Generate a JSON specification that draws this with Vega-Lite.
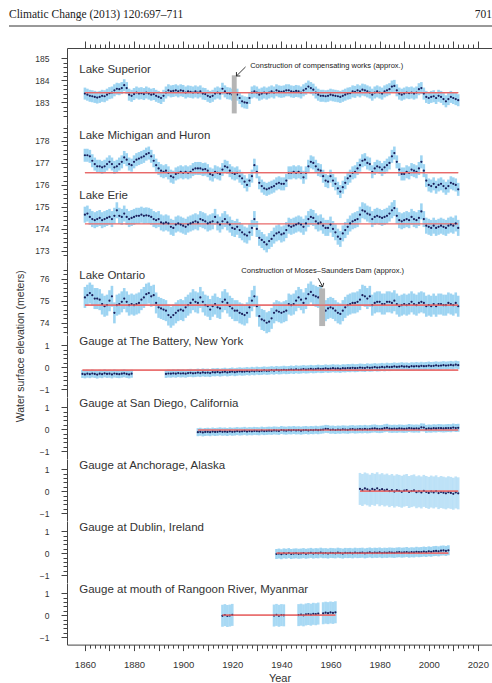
{
"$schema":"https://vega.github.io/schema/vega-lite/v6.json",
"padding":{"left":8,"top":4,"right":0,"bottom":0},
"config":{"view":{"stroke":null},"axis":{"grid":false,"domainColor":"#444","tickColor":"#444","labelColor":"#333","labelFont":"Liberation Sans","labelFontSize":8.5,"titleFont":"Liberation Sans","titleFontWeight":"normal","titleColor":"#333","labelOverlap":false,"labelFlush":false},"text":{"font":"Liberation Sans"}},
"datasets":{
"sup":[{"t":1860,"a":183.4},{"t":1861,"a":183.35},{"t":1862,"a":183.3},{"t":1863,"a":183.28},{"t":1864,"a":183.25},{"t":1865,"a":183.22},{"t":1866,"a":183.25},{"t":1867,"a":183.3},{"t":1868,"a":183.28},{"t":1869,"a":183.35},{"t":1870,"a":183.42},{"t":1871,"a":183.45},{"t":1872,"a":183.55},{"t":1873,"a":183.62},{"t":1874,"a":183.6},{"t":1875,"a":183.65},{"t":1876,"a":183.78},{"t":1877,"a":183.65},{"t":1878,"a":183.35},{"t":1879,"a":183.3},{"t":1880,"a":183.38},{"t":1881,"a":183.45},{"t":1882,"a":183.4},{"t":1883,"a":183.42},{"t":1884,"a":183.38},{"t":1885,"a":183.45},{"t":1886,"a":183.4},{"t":1887,"a":183.35},{"t":1888,"a":183.38},{"t":1889,"a":183.3},{"t":1890,"a":183.25},{"t":1891,"a":183.2},{"t":1892,"a":183.3},{"t":1893,"a":183.45},{"t":1894,"a":183.55},{"t":1895,"a":183.5},{"t":1896,"a":183.52},{"t":1897,"a":183.55},{"t":1898,"a":183.5},{"t":1899,"a":183.55},{"t":1900,"a":183.52},{"t":1901,"a":183.45},{"t":1902,"a":183.5},{"t":1903,"a":183.48},{"t":1904,"a":183.45},{"t":1905,"a":183.5},{"t":1906,"a":183.45},{"t":1907,"a":183.5},{"t":1908,"a":183.4},{"t":1909,"a":183.38},{"t":1910,"a":183.3},{"t":1911,"a":183.25},{"t":1912,"a":183.3},{"t":1913,"a":183.4},{"t":1914,"a":183.45},{"t":1915,"a":183.4},{"t":1916,"a":183.62},{"t":1917,"a":183.5},{"t":1918,"a":183.42},{"t":1919,"a":183.4},{"t":1920,"a":183.35},{"t":1921,"a":183.3},{"t":1922,"a":183.35},{"t":1923,"a":183.2},{"t":1924,"a":183.05},{"t":1925,"a":183.0},{"t":1926,"a":182.98},{"t":1927,"a":183.2},{"t":1928,"a":183.45},{"t":1929,"a":183.5},{"t":1930,"a":183.45},{"t":1931,"a":183.35},{"t":1932,"a":183.4},{"t":1933,"a":183.45},{"t":1934,"a":183.4},{"t":1935,"a":183.45},{"t":1936,"a":183.5},{"t":1937,"a":183.45},{"t":1938,"a":183.55},{"t":1939,"a":183.5},{"t":1940,"a":183.48},{"t":1941,"a":183.5},{"t":1942,"a":183.55},{"t":1943,"a":183.55},{"t":1944,"a":183.5},{"t":1945,"a":183.48},{"t":1946,"a":183.52},{"t":1947,"a":183.5},{"t":1948,"a":183.45},{"t":1949,"a":183.55},{"t":1950,"a":183.62},{"t":1951,"a":183.72},{"t":1952,"a":183.65},{"t":1953,"a":183.58},{"t":1954,"a":183.45},{"t":1955,"a":183.35},{"t":1956,"a":183.3},{"t":1957,"a":183.3},{"t":1958,"a":183.28},{"t":1959,"a":183.3},{"t":1960,"a":183.35},{"t":1961,"a":183.32},{"t":1962,"a":183.3},{"t":1963,"a":183.28},{"t":1964,"a":183.25},{"t":1965,"a":183.3},{"t":1966,"a":183.35},{"t":1967,"a":183.4},{"t":1968,"a":183.42},{"t":1969,"a":183.5},{"t":1970,"a":183.48},{"t":1971,"a":183.55},{"t":1972,"a":183.5},{"t":1973,"a":183.58},{"t":1974,"a":183.55},{"t":1975,"a":183.5},{"t":1976,"a":183.45},{"t":1977,"a":183.35},{"t":1978,"a":183.45},{"t":1979,"a":183.5},{"t":1980,"a":183.45},{"t":1981,"a":183.4},{"t":1982,"a":183.5},{"t":1983,"a":183.55},{"t":1984,"a":183.6},{"t":1985,"a":183.72},{"t":1986,"a":183.75},{"t":1987,"a":183.55},{"t":1988,"a":183.4},{"t":1989,"a":183.35},{"t":1990,"a":183.4},{"t":1991,"a":183.45},{"t":1992,"a":183.42},{"t":1993,"a":183.45},{"t":1994,"a":183.4},{"t":1995,"a":183.45},{"t":1996,"a":183.6},{"t":1997,"a":183.65},{"t":1998,"a":183.4},{"t":1999,"a":183.25},{"t":2000,"a":183.2},{"t":2001,"a":183.25},{"t":2002,"a":183.28},{"t":2003,"a":183.2},{"t":2004,"a":183.3},{"t":2005,"a":183.25},{"t":2006,"a":183.15},{"t":2007,"a":183.05},{"t":2008,"a":183.15},{"t":2009,"a":183.25},{"t":2010,"a":183.2},{"t":2011,"a":183.15},{"t":2012,"a":183.1}],
"mh":[{"t":1860,"a":177.35},{"t":1861,"a":177.35},{"t":1862,"a":177.3},{"t":1863,"a":177.1},{"t":1864,"a":176.95},{"t":1865,"a":176.85},{"t":1866,"a":176.85},{"t":1867,"a":176.8},{"t":1868,"a":176.85},{"t":1869,"a":176.95},{"t":1870,"a":177.05},{"t":1871,"a":176.95},{"t":1872,"a":176.8},{"t":1873,"a":176.85},{"t":1874,"a":176.95},{"t":1875,"a":177.05},{"t":1876,"a":177.25},{"t":1877,"a":177.15},{"t":1878,"a":176.95},{"t":1879,"a":176.9},{"t":1880,"a":177.05},{"t":1881,"a":177.15},{"t":1882,"a":177.2},{"t":1883,"a":177.25},{"t":1884,"a":177.3},{"t":1885,"a":177.4},{"t":1886,"a":177.45},{"t":1887,"a":177.3},{"t":1888,"a":177.1},{"t":1889,"a":176.9},{"t":1890,"a":176.75},{"t":1891,"a":176.65},{"t":1892,"a":176.6},{"t":1893,"a":176.65},{"t":1894,"a":176.55},{"t":1895,"a":176.4},{"t":1896,"a":176.35},{"t":1897,"a":176.5},{"t":1898,"a":176.55},{"t":1899,"a":176.6},{"t":1900,"a":176.55},{"t":1901,"a":176.6},{"t":1902,"a":176.55},{"t":1903,"a":176.6},{"t":1904,"a":176.7},{"t":1905,"a":176.75},{"t":1906,"a":176.75},{"t":1907,"a":176.75},{"t":1908,"a":176.7},{"t":1909,"a":176.72},{"t":1910,"a":176.65},{"t":1911,"a":176.5},{"t":1912,"a":176.45},{"t":1913,"a":176.6},{"t":1914,"a":176.55},{"t":1915,"a":176.5},{"t":1916,"a":176.7},{"t":1917,"a":176.85},{"t":1918,"a":176.8},{"t":1919,"a":176.65},{"t":1920,"a":176.55},{"t":1921,"a":176.5},{"t":1922,"a":176.55},{"t":1923,"a":176.4},{"t":1924,"a":176.3},{"t":1925,"a":176.15},{"t":1926,"a":176.0},{"t":1927,"a":176.2},{"t":1928,"a":176.4},{"t":1929,"a":176.9},{"t":1930,"a":176.6},{"t":1931,"a":176.1},{"t":1932,"a":175.95},{"t":1933,"a":175.85},{"t":1934,"a":175.8},{"t":1935,"a":175.85},{"t":1936,"a":175.9},{"t":1937,"a":175.95},{"t":1938,"a":176.05},{"t":1939,"a":176.1},{"t":1940,"a":176.05},{"t":1941,"a":176.05},{"t":1942,"a":176.2},{"t":1943,"a":176.55},{"t":1944,"a":176.55},{"t":1945,"a":176.6},{"t":1946,"a":176.55},{"t":1947,"a":176.6},{"t":1948,"a":176.55},{"t":1949,"a":176.35},{"t":1950,"a":176.55},{"t":1951,"a":176.85},{"t":1952,"a":177.05},{"t":1953,"a":177.0},{"t":1954,"a":176.85},{"t":1955,"a":176.7},{"t":1956,"a":176.65},{"t":1957,"a":176.4},{"t":1958,"a":176.2},{"t":1959,"a":176.15},{"t":1960,"a":176.4},{"t":1961,"a":176.2},{"t":1962,"a":176.05},{"t":1963,"a":175.85},{"t":1964,"a":175.7},{"t":1965,"a":175.9},{"t":1966,"a":176.1},{"t":1967,"a":176.3},{"t":1968,"a":176.4},{"t":1969,"a":176.55},{"t":1970,"a":176.6},{"t":1971,"a":176.75},{"t":1972,"a":176.9},{"t":1973,"a":177.1},{"t":1974,"a":177.15},{"t":1975,"a":177.0},{"t":1976,"a":176.95},{"t":1977,"a":176.6},{"t":1978,"a":176.75},{"t":1979,"a":176.85},{"t":1980,"a":176.8},{"t":1981,"a":176.7},{"t":1982,"a":176.8},{"t":1983,"a":176.9},{"t":1984,"a":177.0},{"t":1985,"a":177.3},{"t":1986,"a":177.45},{"t":1987,"a":177.05},{"t":1988,"a":176.7},{"t":1989,"a":176.5},{"t":1990,"a":176.5},{"t":1991,"a":176.6},{"t":1992,"a":176.55},{"t":1993,"a":176.7},{"t":1994,"a":176.65},{"t":1995,"a":176.6},{"t":1996,"a":176.75},{"t":1997,"a":177.05},{"t":1998,"a":176.65},{"t":1999,"a":176.2},{"t":2000,"a":176.0},{"t":2001,"a":175.95},{"t":2002,"a":176.05},{"t":2003,"a":175.9},{"t":2004,"a":176.0},{"t":2005,"a":176.05},{"t":2006,"a":175.95},{"t":2007,"a":175.85},{"t":2008,"a":175.95},{"t":2009,"a":176.1},{"t":2010,"a":176.05},{"t":2011,"a":176.0},{"t":2012,"a":175.8}],
"er":[{"t":1860,"a":174.65},{"t":1861,"a":174.7},{"t":1862,"a":174.55},{"t":1863,"a":174.45},{"t":1864,"a":174.4},{"t":1865,"a":174.45},{"t":1866,"a":174.5},{"t":1867,"a":174.4},{"t":1868,"a":174.45},{"t":1869,"a":174.5},{"t":1870,"a":174.55},{"t":1871,"a":174.45},{"t":1872,"a":174.6},{"t":1873,"a":174.85},{"t":1874,"a":174.6},{"t":1875,"a":174.55},{"t":1876,"a":174.7},{"t":1877,"a":174.55},{"t":1878,"a":174.45},{"t":1879,"a":174.5},{"t":1880,"a":174.55},{"t":1881,"a":174.6},{"t":1882,"a":174.6},{"t":1883,"a":174.65},{"t":1884,"a":174.6},{"t":1885,"a":174.62},{"t":1886,"a":174.6},{"t":1887,"a":174.55},{"t":1888,"a":174.45},{"t":1889,"a":174.4},{"t":1890,"a":174.45},{"t":1891,"a":174.3},{"t":1892,"a":174.25},{"t":1893,"a":174.3},{"t":1894,"a":174.25},{"t":1895,"a":174.1},{"t":1896,"a":174.05},{"t":1897,"a":174.2},{"t":1898,"a":174.25},{"t":1899,"a":174.2},{"t":1900,"a":174.15},{"t":1901,"a":174.1},{"t":1902,"a":174.2},{"t":1903,"a":174.25},{"t":1904,"a":174.3},{"t":1905,"a":174.35},{"t":1906,"a":174.3},{"t":1907,"a":174.45},{"t":1908,"a":174.4},{"t":1909,"a":174.35},{"t":1910,"a":174.25},{"t":1911,"a":174.3},{"t":1912,"a":174.35},{"t":1913,"a":174.55},{"t":1914,"a":174.3},{"t":1915,"a":174.2},{"t":1916,"a":174.35},{"t":1917,"a":174.45},{"t":1918,"a":174.3},{"t":1919,"a":174.2},{"t":1920,"a":174.05},{"t":1921,"a":174.0},{"t":1922,"a":174.1},{"t":1923,"a":173.95},{"t":1924,"a":173.85},{"t":1925,"a":173.75},{"t":1926,"a":173.7},{"t":1927,"a":173.85},{"t":1928,"a":174.05},{"t":1929,"a":174.45},{"t":1930,"a":174.0},{"t":1931,"a":173.6},{"t":1932,"a":173.5},{"t":1933,"a":173.4},{"t":1934,"a":173.3},{"t":1935,"a":173.45},{"t":1936,"a":173.55},{"t":1937,"a":173.7},{"t":1938,"a":173.8},{"t":1939,"a":173.85},{"t":1940,"a":173.75},{"t":1941,"a":173.8},{"t":1942,"a":173.95},{"t":1943,"a":174.15},{"t":1944,"a":174.1},{"t":1945,"a":174.15},{"t":1946,"a":174.2},{"t":1947,"a":174.25},{"t":1948,"a":174.2},{"t":1949,"a":174.1},{"t":1950,"a":174.25},{"t":1951,"a":174.45},{"t":1952,"a":174.55},{"t":1953,"a":174.5},{"t":1954,"a":174.35},{"t":1955,"a":174.25},{"t":1956,"a":174.3},{"t":1957,"a":174.15},{"t":1958,"a":174.05},{"t":1959,"a":174.05},{"t":1960,"a":174.2},{"t":1961,"a":174.0},{"t":1962,"a":173.85},{"t":1963,"a":173.65},{"t":1964,"a":173.55},{"t":1965,"a":173.8},{"t":1966,"a":173.95},{"t":1967,"a":174.1},{"t":1968,"a":174.25},{"t":1969,"a":174.35},{"t":1970,"a":174.4},{"t":1971,"a":174.45},{"t":1972,"a":174.65},{"t":1973,"a":174.85},{"t":1974,"a":174.8},{"t":1975,"a":174.7},{"t":1976,"a":174.65},{"t":1977,"a":174.45},{"t":1978,"a":174.55},{"t":1979,"a":174.6},{"t":1980,"a":174.55},{"t":1981,"a":174.5},{"t":1982,"a":174.55},{"t":1983,"a":174.6},{"t":1984,"a":174.7},{"t":1985,"a":174.85},{"t":1986,"a":174.95},{"t":1987,"a":174.6},{"t":1988,"a":174.4},{"t":1989,"a":174.35},{"t":1990,"a":174.4},{"t":1991,"a":174.45},{"t":1992,"a":174.4},{"t":1993,"a":174.55},{"t":1994,"a":174.45},{"t":1995,"a":174.4},{"t":1996,"a":174.5},{"t":1997,"a":174.8},{"t":1998,"a":174.45},{"t":1999,"a":174.15},{"t":2000,"a":174.1},{"t":2001,"a":174.05},{"t":2002,"a":174.15},{"t":2003,"a":174.05},{"t":2004,"a":174.1},{"t":2005,"a":174.15},{"t":2006,"a":174.1},{"t":2007,"a":174.05},{"t":2008,"a":174.15},{"t":2009,"a":174.2},{"t":2010,"a":174.15},{"t":2011,"a":174.25},{"t":2012,"a":174.05}],
"on":[{"t":1860,"a":75.15},{"t":1861,"a":75.25},{"t":1862,"a":75.35},{"t":1863,"a":75.25},{"t":1864,"a":75.1},{"t":1865,"a":75.1},{"t":1866,"a":75.05},{"t":1867,"a":74.85},{"t":1868,"a":74.75},{"t":1869,"a":74.8},{"t":1870,"a":75.0},{"t":1871,"a":75.2},{"t":1872,"a":74.45},{"t":1873,"a":74.8},{"t":1874,"a":74.85},{"t":1875,"a":74.95},{"t":1876,"a":75.1},{"t":1877,"a":74.95},{"t":1878,"a":74.8},{"t":1879,"a":74.85},{"t":1880,"a":74.8},{"t":1881,"a":74.85},{"t":1882,"a":74.9},{"t":1883,"a":75.05},{"t":1884,"a":75.15},{"t":1885,"a":75.3},{"t":1886,"a":75.35},{"t":1887,"a":75.2},{"t":1888,"a":75.25},{"t":1889,"a":74.9},{"t":1890,"a":74.7},{"t":1891,"a":74.65},{"t":1892,"a":74.6},{"t":1893,"a":74.55},{"t":1894,"a":74.35},{"t":1895,"a":74.25},{"t":1896,"a":74.35},{"t":1897,"a":74.45},{"t":1898,"a":74.55},{"t":1899,"a":74.6},{"t":1900,"a":74.55},{"t":1901,"a":74.7},{"t":1902,"a":74.8},{"t":1903,"a":74.9},{"t":1904,"a":75.05},{"t":1905,"a":74.95},{"t":1906,"a":74.9},{"t":1907,"a":75.15},{"t":1908,"a":74.95},{"t":1909,"a":74.8},{"t":1910,"a":74.75},{"t":1911,"a":74.6},{"t":1912,"a":74.75},{"t":1913,"a":74.85},{"t":1914,"a":74.7},{"t":1915,"a":74.65},{"t":1916,"a":74.95},{"t":1917,"a":75.05},{"t":1918,"a":74.9},{"t":1919,"a":74.75},{"t":1920,"a":74.65},{"t":1921,"a":74.55},{"t":1922,"a":74.55},{"t":1923,"a":74.45},{"t":1924,"a":74.4},{"t":1925,"a":74.35},{"t":1926,"a":74.45},{"t":1927,"a":74.7},{"t":1928,"a":75.0},{"t":1929,"a":75.2},{"t":1930,"a":74.75},{"t":1931,"a":74.3},{"t":1932,"a":74.15},{"t":1933,"a":74.1},{"t":1934,"a":74.0},{"t":1935,"a":74.05},{"t":1936,"a":74.2},{"t":1937,"a":74.45},{"t":1938,"a":74.55},{"t":1939,"a":74.5},{"t":1940,"a":74.45},{"t":1941,"a":74.5},{"t":1942,"a":74.55},{"t":1943,"a":74.85},{"t":1944,"a":74.8},{"t":1945,"a":74.85},{"t":1946,"a":75.0},{"t":1947,"a":75.15},{"t":1948,"a":75.05},{"t":1949,"a":74.9},{"t":1950,"a":75.1},{"t":1951,"a":75.3},{"t":1952,"a":75.4},{"t":1953,"a":75.25},{"t":1954,"a":75.2},{"t":1955,"a":75.15},{"t":1956,"a":75.2},{"t":1957,"a":74.9},{"t":1958,"a":74.55},{"t":1959,"a":74.65},{"t":1960,"a":74.7},{"t":1961,"a":74.65},{"t":1962,"a":74.55},{"t":1963,"a":74.45},{"t":1964,"a":74.4},{"t":1965,"a":74.55},{"t":1966,"a":74.7},{"t":1967,"a":74.8},{"t":1968,"a":74.85},{"t":1969,"a":74.9},{"t":1970,"a":74.9},{"t":1971,"a":74.95},{"t":1972,"a":75.05},{"t":1973,"a":75.25},{"t":1974,"a":75.2},{"t":1975,"a":75.1},{"t":1976,"a":75.2},{"t":1977,"a":74.8},{"t":1978,"a":74.9},{"t":1979,"a":74.95},{"t":1980,"a":74.95},{"t":1981,"a":74.85},{"t":1982,"a":74.85},{"t":1983,"a":74.95},{"t":1984,"a":74.95},{"t":1985,"a":74.9},{"t":1986,"a":75.0},{"t":1987,"a":74.85},{"t":1988,"a":74.75},{"t":1989,"a":74.8},{"t":1990,"a":74.85},{"t":1991,"a":74.8},{"t":1992,"a":74.85},{"t":1993,"a":74.95},{"t":1994,"a":74.85},{"t":1995,"a":74.8},{"t":1996,"a":74.9},{"t":1997,"a":74.95},{"t":1998,"a":74.9},{"t":1999,"a":74.75},{"t":2000,"a":74.8},{"t":2001,"a":74.75},{"t":2002,"a":74.85},{"t":2003,"a":74.75},{"t":2004,"a":74.85},{"t":2005,"a":74.85},{"t":2006,"a":74.8},{"t":2007,"a":74.8},{"t":2008,"a":74.9},{"t":2009,"a":74.85},{"t":2010,"a":74.8},{"t":2011,"a":74.9},{"t":2012,"a":74.75}],
"ba":[{"t":1859,"a":-0.31},{"t":1860,"a":-0.33},{"t":1861,"a":-0.3},{"t":1862,"a":-0.32},{"t":1863,"a":-0.29},{"t":1864,"a":-0.31},{"t":1865,"a":-0.34},{"t":1866,"a":-0.3},{"t":1867,"a":-0.32},{"t":1868,"a":-0.28},{"t":1869,"a":-0.31},{"t":1870,"a":-0.3},{"t":1871,"a":-0.33},{"t":1872,"a":-0.29},{"t":1873,"a":-0.31},{"t":1874,"a":-0.32},{"t":1875,"a":-0.3},{"t":1876,"a":-0.28},{"t":1877,"a":-0.31},{"t":1878,"a":-0.33},{"t":1879,"a":-0.3},{"t":1893,"a":-0.31},{"t":1894,"a":-0.29},{"t":1895,"a":-0.3},{"t":1896,"a":-0.28},{"t":1897,"a":-0.3},{"t":1898,"a":-0.27},{"t":1899,"a":-0.29},{"t":1900,"a":-0.28},{"t":1901,"a":-0.3},{"t":1902,"a":-0.27},{"t":1903,"a":-0.26},{"t":1904,"a":-0.28},{"t":1905,"a":-0.27},{"t":1906,"a":-0.25},{"t":1907,"a":-0.27},{"t":1908,"a":-0.24},{"t":1909,"a":-0.26},{"t":1910,"a":-0.25},{"t":1911,"a":-0.27},{"t":1912,"a":-0.23},{"t":1913,"a":-0.24},{"t":1914,"a":-0.22},{"t":1915,"a":-0.25},{"t":1916,"a":-0.23},{"t":1917,"a":-0.21},{"t":1918,"a":-0.24},{"t":1919,"a":-0.22},{"t":1920,"a":-0.2},{"t":1921,"a":-0.23},{"t":1922,"a":-0.21},{"t":1923,"a":-0.19},{"t":1924,"a":-0.21},{"t":1925,"a":-0.2},{"t":1926,"a":-0.18},{"t":1927,"a":-0.2},{"t":1928,"a":-0.17},{"t":1929,"a":-0.19},{"t":1930,"a":-0.16},{"t":1931,"a":-0.18},{"t":1932,"a":-0.17},{"t":1933,"a":-0.15},{"t":1934,"a":-0.17},{"t":1935,"a":-0.16},{"t":1936,"a":-0.14},{"t":1937,"a":-0.16},{"t":1938,"a":-0.13},{"t":1939,"a":-0.15},{"t":1940,"a":-0.14},{"t":1941,"a":-0.12},{"t":1942,"a":-0.14},{"t":1943,"a":-0.13},{"t":1944,"a":-0.11},{"t":1945,"a":-0.13},{"t":1946,"a":-0.1},{"t":1947,"a":-0.12},{"t":1948,"a":-0.11},{"t":1949,"a":-0.09},{"t":1950,"a":-0.11},{"t":1951,"a":-0.1},{"t":1952,"a":-0.08},{"t":1953,"a":-0.1},{"t":1954,"a":-0.09},{"t":1955,"a":-0.07},{"t":1956,"a":-0.09},{"t":1957,"a":-0.08},{"t":1958,"a":-0.06},{"t":1959,"a":-0.08},{"t":1960,"a":-0.07},{"t":1961,"a":-0.05},{"t":1962,"a":-0.07},{"t":1963,"a":-0.06},{"t":1964,"a":-0.08},{"t":1965,"a":-0.05},{"t":1966,"a":-0.06},{"t":1967,"a":-0.04},{"t":1968,"a":-0.05},{"t":1969,"a":-0.03},{"t":1970,"a":-0.05},{"t":1971,"a":-0.04},{"t":1972,"a":-0.02},{"t":1973,"a":-0.03},{"t":1974,"a":-0.04},{"t":1975,"a":-0.01},{"t":1976,"a":-0.03},{"t":1977,"a":-0.02},{"t":1978,"a":0.0},{"t":1979,"a":-0.02},{"t":1980,"a":-0.01},{"t":1981,"a":0.01},{"t":1982,"a":-0.01},{"t":1983,"a":0.02},{"t":1984,"a":0.0},{"t":1985,"a":0.01},{"t":1986,"a":0.03},{"t":1987,"a":0.01},{"t":1988,"a":0.02},{"t":1989,"a":0.04},{"t":1990,"a":0.02},{"t":1991,"a":0.03},{"t":1992,"a":0.01},{"t":1993,"a":0.04},{"t":1994,"a":0.03},{"t":1995,"a":0.05},{"t":1996,"a":0.03},{"t":1997,"a":0.06},{"t":1998,"a":0.04},{"t":1999,"a":0.05},{"t":2000,"a":0.07},{"t":2001,"a":0.05},{"t":2002,"a":0.06},{"t":2003,"a":0.08},{"t":2004,"a":0.06},{"t":2005,"a":0.07},{"t":2006,"a":0.09},{"t":2007,"a":0.07},{"t":2008,"a":0.08},{"t":2009,"a":0.1},{"t":2010,"a":0.08},{"t":2011,"a":0.11},{"t":2012,"a":0.09}],
"sd":[{"t":1906,"a":-0.14},{"t":1907,"a":-0.12},{"t":1908,"a":-0.15},{"t":1909,"a":-0.13},{"t":1910,"a":-0.12},{"t":1911,"a":-0.14},{"t":1912,"a":-0.11},{"t":1913,"a":-0.13},{"t":1914,"a":-0.12},{"t":1915,"a":-0.1},{"t":1916,"a":-0.12},{"t":1917,"a":-0.11},{"t":1918,"a":-0.13},{"t":1919,"a":-0.1},{"t":1920,"a":-0.12},{"t":1921,"a":-0.11},{"t":1922,"a":-0.09},{"t":1923,"a":-0.11},{"t":1924,"a":-0.1},{"t":1925,"a":-0.08},{"t":1926,"a":-0.11},{"t":1927,"a":-0.09},{"t":1928,"a":-0.1},{"t":1929,"a":-0.08},{"t":1930,"a":-0.09},{"t":1931,"a":-0.1},{"t":1932,"a":-0.07},{"t":1933,"a":-0.09},{"t":1934,"a":-0.08},{"t":1935,"a":-0.07},{"t":1936,"a":-0.08},{"t":1937,"a":-0.06},{"t":1938,"a":-0.07},{"t":1939,"a":-0.08},{"t":1940,"a":-0.04},{"t":1941,"a":-0.06},{"t":1942,"a":-0.07},{"t":1943,"a":-0.05},{"t":1944,"a":-0.06},{"t":1945,"a":-0.04},{"t":1946,"a":-0.06},{"t":1947,"a":-0.05},{"t":1948,"a":-0.07},{"t":1949,"a":-0.05},{"t":1950,"a":-0.04},{"t":1951,"a":-0.06},{"t":1952,"a":-0.04},{"t":1953,"a":-0.05},{"t":1954,"a":-0.03},{"t":1955,"a":-0.05},{"t":1956,"a":-0.03},{"t":1957,"a":-0.02},{"t":1958,"a":0.01},{"t":1959,"a":0.0},{"t":1960,"a":-0.03},{"t":1961,"a":-0.02},{"t":1962,"a":-0.04},{"t":1963,"a":-0.02},{"t":1964,"a":-0.03},{"t":1965,"a":-0.01},{"t":1966,"a":-0.02},{"t":1967,"a":-0.03},{"t":1968,"a":-0.01},{"t":1969,"a":0.0},{"t":1970,"a":-0.02},{"t":1971,"a":-0.01},{"t":1972,"a":0.0},{"t":1973,"a":-0.01},{"t":1974,"a":0.01},{"t":1975,"a":-0.01},{"t":1976,"a":0.0},{"t":1977,"a":0.02},{"t":1978,"a":0.03},{"t":1979,"a":0.01},{"t":1980,"a":0.0},{"t":1981,"a":0.01},{"t":1982,"a":0.04},{"t":1983,"a":0.06},{"t":1984,"a":0.02},{"t":1985,"a":0.01},{"t":1986,"a":0.02},{"t":1987,"a":0.01},{"t":1988,"a":0.03},{"t":1989,"a":0.02},{"t":1990,"a":0.01},{"t":1991,"a":0.02},{"t":1992,"a":0.05},{"t":1993,"a":0.03},{"t":1994,"a":0.02},{"t":1995,"a":0.03},{"t":1996,"a":0.02},{"t":1997,"a":0.08},{"t":1998,"a":0.07},{"t":1999,"a":0.01},{"t":2000,"a":0.03},{"t":2001,"a":0.02},{"t":2002,"a":0.04},{"t":2003,"a":0.03},{"t":2004,"a":0.05},{"t":2005,"a":0.04},{"t":2006,"a":0.03},{"t":2007,"a":0.04},{"t":2008,"a":0.05},{"t":2009,"a":0.04},{"t":2010,"a":0.07},{"t":2011,"a":0.05},{"t":2012,"a":0.06}],
"an":[{"t":1972,"a":0.1},{"t":1973,"a":0.05},{"t":1974,"a":0.12},{"t":1975,"a":0.08},{"t":1976,"a":0.02},{"t":1977,"a":0.1},{"t":1978,"a":0.06},{"t":1979,"a":0.13},{"t":1980,"a":0.04},{"t":1981,"a":0.09},{"t":1982,"a":0.03},{"t":1983,"a":0.07},{"t":1984,"a":0.0},{"t":1985,"a":0.05},{"t":1986,"a":-0.02},{"t":1987,"a":0.04},{"t":1988,"a":0.01},{"t":1989,"a":-0.03},{"t":1990,"a":0.02},{"t":1991,"a":0.05},{"t":1992,"a":-0.04},{"t":1993,"a":0.0},{"t":1994,"a":0.03},{"t":1995,"a":-0.05},{"t":1996,"a":-0.01},{"t":1997,"a":-0.06},{"t":1998,"a":0.01},{"t":1999,"a":-0.04},{"t":2000,"a":-0.08},{"t":2001,"a":-0.02},{"t":2002,"a":-0.06},{"t":2003,"a":-0.01},{"t":2004,"a":-0.09},{"t":2005,"a":-0.04},{"t":2006,"a":-0.07},{"t":2007,"a":-0.1},{"t":2008,"a":-0.05},{"t":2009,"a":-0.08},{"t":2010,"a":-0.12},{"t":2011,"a":-0.06},{"t":2012,"a":-0.1}],
"du":[{"t":1938,"a":-0.04},{"t":1939,"a":-0.02},{"t":1940,"a":-0.05},{"t":1941,"a":-0.01},{"t":1942,"a":-0.03},{"t":1943,"a":0.0},{"t":1944,"a":-0.04},{"t":1945,"a":-0.02},{"t":1946,"a":-0.01},{"t":1947,"a":-0.03},{"t":1948,"a":-0.02},{"t":1949,"a":0.0},{"t":1950,"a":-0.03},{"t":1951,"a":-0.01},{"t":1952,"a":0.01},{"t":1953,"a":-0.02},{"t":1954,"a":0.0},{"t":1955,"a":-0.01},{"t":1956,"a":0.02},{"t":1957,"a":-0.01},{"t":1958,"a":0.0},{"t":1959,"a":-0.02},{"t":1960,"a":0.01},{"t":1961,"a":0.0},{"t":1962,"a":-0.01},{"t":1963,"a":0.02},{"t":1964,"a":0.0},{"t":1965,"a":-0.02},{"t":1966,"a":0.01},{"t":1967,"a":0.0},{"t":1968,"a":0.01},{"t":1969,"a":-0.01},{"t":1970,"a":0.02},{"t":1971,"a":0.0},{"t":1972,"a":0.01},{"t":1973,"a":0.02},{"t":1974,"a":-0.01},{"t":1975,"a":0.01},{"t":1976,"a":0.03},{"t":1977,"a":0.0},{"t":1978,"a":0.02},{"t":1979,"a":0.01},{"t":1980,"a":0.03},{"t":1981,"a":0.0},{"t":1982,"a":0.02},{"t":1983,"a":0.01},{"t":1984,"a":0.03},{"t":1985,"a":0.02},{"t":1986,"a":0.01},{"t":1987,"a":0.03},{"t":1988,"a":0.04},{"t":1989,"a":0.02},{"t":1990,"a":0.03},{"t":1991,"a":0.05},{"t":1992,"a":0.02},{"t":1993,"a":0.04},{"t":1994,"a":0.03},{"t":1995,"a":0.06},{"t":1996,"a":0.04},{"t":1997,"a":0.05},{"t":1998,"a":0.07},{"t":1999,"a":0.05},{"t":2000,"a":0.08},{"t":2001,"a":0.06},{"t":2002,"a":0.09},{"t":2003,"a":0.1},{"t":2004,"a":0.08},{"t":2005,"a":0.11},{"t":2006,"a":0.12},{"t":2007,"a":0.1},{"t":2008,"a":0.13}],
"ra":[{"t":1916,"a":-0.03},{"t":1917,"a":0.0},{"t":1918,"a":-0.04},{"t":1919,"a":-0.02},{"t":1920,"a":0.01},{"t":1937,"a":-0.02},{"t":1938,"a":0.01},{"t":1939,"a":-0.03},{"t":1940,"a":0.0},{"t":1941,"a":-0.01},{"t":1947,"a":0.0},{"t":1948,"a":0.02},{"t":1949,"a":-0.01},{"t":1950,"a":0.03},{"t":1951,"a":0.05},{"t":1952,"a":0.02},{"t":1953,"a":0.06},{"t":1954,"a":0.04},{"t":1955,"a":0.07},{"t":1957,"a":0.08},{"t":1958,"a":0.11},{"t":1959,"a":0.09},{"t":1960,"a":0.12},{"t":1961,"a":0.1},{"t":1962,"a":0.13}]
},
"spacing":0,
"bounds":"flush",
"vconcat":[
{"width":425,"height":44,
 "encoding":{"x":{"field":"p","type":"quantitative","scale":{"domain":[0,1],"range":[-58,425]},"axis":null}},
 "layer":[
  {"data":{"values":[{"p":0,"p2":1}]},"mark":{"type":"rule","color":"#333","strokeWidth":1},"encoding":{"x2":{"field":"p2"}}},
  {"data":{"values":[{"p":0,"label":"Climatic Change (2013) 120:697–711"}]},"mark":{"type":"text","align":"left","baseline":"alphabetic","dy":-7.6,"font":"Liberation Serif","fontSize":11.5,"color":"#222"},"encoding":{"text":{"field":"label"}}},
  {"data":{"values":[{"p":1,"label":"701"}]},"mark":{"type":"text","align":"right","baseline":"alphabetic","dy":-7.6,"font":"Liberation Serif","fontSize":11.5,"color":"#222"},"encoding":{"text":{"field":"label"}}}
 ]},
{"width":425,"height":76,
 "resolve":{"axis":{"x":"independent","y":"independent"}},
 "layer":[
  {"encoding":{
    "x":{"field":"t","type":"quantitative","scale":{"domain":[1852.7,2025.76]},"axis":{"orient":"top","labels":false,"title":null,"values":[1860,1870,1880,1890,1900,1910,1920,1930,1940,1950,1960,1970,1980,1990,2000,2010,2020],"tickSize":7}},
    "y":{"field":"a","type":"quantitative","scale":{"domain":[182.02,185.47]},"axis":{"orient":"left","title":null,"format":"d","values":[183,184,185],"tickSize":6,"labelPadding":12}}},
   "layer":[
    {"data":{"name":"sup"},"mark":{"type":"tick","orient":"vertical","size":12,"thickness":2.6,"color":"#92cff1","opacity":0.9}},
    {"data":{"values":[{"t":1860,"t2":2012,"a":183.44}]},"mark":{"type":"rule","color":"#e86a6a","strokeWidth":1.2},"encoding":{"x2":{"field":"t2"}}},
    {"data":{"name":"sup"},"mark":{"type":"point","filled":true,"size":5,"color":"#1a1f5c","opacity":1}},
    {"data":{"values":[{"t":1919.8,"t2":1921.8,"a":182.5,"a2":184.23}]},"mark":{"type":"rect","color":"#b5b5b5"},"encoding":{"x2":{"field":"t2"},"y2":{"field":"a2"}}},
    {"data":{"values":[{"t":1857.7,"a":184.47,"label":"Lake Superior"}]},"mark":{"type":"text","align":"left","baseline":"middle","fontSize":11.5,"color":"#333"},"encoding":{"text":{"field":"label"}}},
    {"data":{"values":[{"t":1927.3,"a":184.67,"label":"Construction of compensating works (approx.)"}]},"mark":{"type":"text","align":"left","baseline":"middle","fontSize":7.5,"color":"#222"},"encoding":{"text":{"field":"label"}}},
    {"data":{"values":[{"t":1925.4,"a":184.61,"t2":1921.7,"a2":184.2}]},"mark":{"type":"rule","color":"#222","strokeWidth":0.9},"encoding":{"x2":{"field":"t2"},"y2":{"field":"a2"}}},
    {"data":{"values":[{"t":1921.7,"a":184.2}]},"mark":{"type":"point","shape":"M-1,-1L0,0L1,-1","filled":false,"size":30,"angle":45,"color":"#222","strokeWidth":0.9,"opacity":1}}
   ]},
  {"data":{"values":[{"t":1860,"t2":2012,"a":183.44}]},"mark":{"type":"rule","color":"#e86a6a","strokeWidth":1.2},
   "encoding":{"x":{"field":"t","type":"quantitative","scale":{"domain":[1852.7,2025.76]},"axis":{"orient":"top","labels":false,"domain":false,"title":null,"values":[1862,1864,1866,1868,1872,1874,1876,1878,1882,1884,1886,1888,1892,1894,1896,1898,1902,1904,1906,1908,1912,1914,1916,1918,1922,1924,1926,1928,1932,1934,1936,1938,1942,1944,1946,1948,1952,1954,1956,1958,1962,1964,1966,1968,1972,1974,1976,1978,1982,1984,1986,1988,1992,1994,1996,1998,2002,2004,2006,2008,2012,2014,2016,2018],"tickSize":4}},"x2":{"field":"t2"},
    "y":{"field":"a","type":"quantitative","scale":{"domain":[182.02,185.47]},"axis":{"orient":"left","title":null,"labels":false,"domain":false,"values":[182.4,182.6,182.8,183.2,183.4,183.6,183.8,184.2,184.4,184.6,184.8],"tickSize":4}}}}
 ]},
{"width":425,"height":138,
 "resolve":{"axis":{"y":"independent"}},
 "layer":[
  {"encoding":{
    "x":{"field":"t","type":"quantitative","scale":{"domain":[1852.7,2025.76]},"axis":null},
    "y":{"field":"a","type":"quantitative","scale":{"domain":[172.5,178.77]},"axis":{"orient":"left","title":null,"format":"d","values":[173,174,175,176,177,178],"tickSize":6,"labelPadding":12}}},
   "layer":[
    {"data":{"name":"mh"},"mark":{"type":"tick","orient":"vertical","size":13,"thickness":2.6,"color":"#92cff1","opacity":0.9}},
    {"data":{"name":"er"},"mark":{"type":"tick","orient":"vertical","size":16,"thickness":2.6,"color":"#92cff1","opacity":0.9}},
    {"data":{"values":[{"t":1860,"t2":2012,"a":176.56},{"t":1860,"t2":2012,"a":174.23}]},"mark":{"type":"rule","color":"#e86a6a","strokeWidth":1.2},"encoding":{"x2":{"field":"t2"}}},
    {"data":{"name":"mh"},"mark":{"type":"point","filled":true,"size":5,"color":"#1a1f5c","opacity":1}},
    {"data":{"name":"er"},"mark":{"type":"point","filled":true,"size":5,"color":"#1a1f5c","opacity":1}},
    {"data":{"values":[{"t":1857.7,"a":178.22,"label":"Lake Michigan and Huron"},{"t":1857.7,"a":175.5,"label":"Lake Erie"}]},"mark":{"type":"text","align":"left","baseline":"middle","fontSize":11.5,"color":"#333"},"encoding":{"text":{"field":"label"}}}
   ]},
  {"data":{"values":[{"t":1860,"t2":2012,"a":176.56}]},"mark":{"type":"rule","color":"#e86a6a","strokeWidth":1.2},
   "encoding":{"x":{"field":"t","type":"quantitative","scale":{"domain":[1852.7,2025.76]},"axis":null},"x2":{"field":"t2"},
    "y":{"field":"a","type":"quantitative","scale":{"domain":[172.5,178.77]},"axis":{"orient":"left","title":null,"labels":false,"domain":false,"values":[172.8,173.2,173.4,173.6,173.8,174.2,174.4,174.6,174.8,175.2,175.4,175.6,175.8,176.2,176.4,176.6,176.8,177.2,177.4,177.6,177.8,178.2,178.4,178.6],"tickSize":4}}}}
 ]},
{"width":425,"height":72.2,
 "resolve":{"axis":{"y":"independent"}},
 "layer":[
  {"encoding":{
    "x":{"field":"t","type":"quantitative","scale":{"domain":[1852.7,2025.76]},"axis":null},
    "y":{"field":"a","type":"quantitative","scale":{"domain":[73.48,76.76]},"axis":{"orient":"left","title":null,"format":"d","values":[74,75,76],"tickSize":6,"labelPadding":12}}},
   "layer":[
    {"data":{"name":"on"},"mark":{"type":"tick","orient":"vertical","size":21,"thickness":2.6,"color":"#92cff1","opacity":0.9}},
    {"data":{"values":[{"t":1860,"t2":2012,"a":74.8}]},"mark":{"type":"rule","color":"#e86a6a","strokeWidth":1.2},"encoding":{"x2":{"field":"t2"}}},
    {"data":{"name":"on"},"mark":{"type":"point","filled":true,"size":5,"color":"#1a1f5c","opacity":1}},
    {"data":{"values":[{"t":1955.4,"t2":1957.8,"a":73.85,"a2":75.56}]},"mark":{"type":"rect","color":"#b5b5b5"},"encoding":{"x2":{"field":"t2"},"y2":{"field":"a2"}}},
    {"data":{"values":[{"t":1857.7,"a":76.14,"label":"Lake Ontario"}]},"mark":{"type":"text","align":"left","baseline":"middle","fontSize":11.5,"color":"#333"},"encoding":{"text":{"field":"label"}}},
    {"data":{"values":[{"t":1956.8,"a":76.36,"label":"Construction of Moses–Saunders Dam (approx.)"}]},"mark":{"type":"text","align":"center","baseline":"middle","fontSize":7.6,"color":"#222"},"encoding":{"text":{"field":"label"}}},
    {"data":{"values":[{"t":1955.0,"a":76.02,"t2":1956.8,"a2":75.64}]},"mark":{"type":"rule","color":"#222","strokeWidth":0.9},"encoding":{"x2":{"field":"t2"},"y2":{"field":"a2"}}},
    {"data":{"values":[{"t":1956.8,"a":75.64}]},"mark":{"type":"point","shape":"M-1,-1L0,0L1,-1","filled":false,"size":30,"angle":332,"color":"#222","strokeWidth":0.9,"opacity":1}}
   ]},
  {"data":{"values":[{"t":1860,"t2":2012,"a":74.8}]},"mark":{"type":"rule","color":"#e86a6a","strokeWidth":1.2},
   "encoding":{"x":{"field":"t","type":"quantitative","scale":{"domain":[1852.7,2025.76]},"axis":null},"x2":{"field":"t2"},
    "y":{"field":"a","type":"quantitative","scale":{"domain":[73.48,76.76]},"axis":{"orient":"left","title":null,"labels":false,"domain":false,"values":[73.6,73.8,74.2,74.4,74.6,74.8,75.2,75.4,75.6,75.8,76.2,76.4],"tickSize":4}}}}
 ]},
{"width":425,"height":61.6,
 "resolve":{"axis":{"y":"independent"}},
 "layer":[
  {"encoding":{
    "x":{"field":"t","type":"quantitative","scale":{"domain":[1852.7,2025.76]},"axis":null},
    "y":{"field":"a","type":"quantitative","scale":{"domain":[-1.34,1.46]},"axis":{"orient":"left","title":"Water surface elevation (meters)","titleFontSize":10.5,"titleX":-42,"titleY":10.8,"format":"d","values":[-1,0,1],"tickSize":6,"labelPadding":12}}},
   "layer":[
    {"data":{"name":"ba"},"mark":{"type":"tick","orient":"vertical","size":8,"thickness":2.6,"color":"#92cff1","opacity":0.9}},
    {"data":{"values":[{"t":1859,"t2":2012,"a":-0.14}]},"mark":{"type":"rule","color":"#e86a6a","strokeWidth":1.2},"encoding":{"x2":{"field":"t2"}}},
    {"data":{"name":"ba"},"mark":{"type":"point","filled":true,"size":5,"color":"#1a1f5c","opacity":1}},
    {"data":{"values":[{"t":1857.7,"a":1.16,"label":"Gauge at The Battery, New York"}]},"mark":{"type":"text","align":"left","baseline":"middle","fontSize":11.5,"color":"#333"},"encoding":{"text":{"field":"label"}}}
   ]},
  {"data":{"values":[{"t":1859,"t2":2012,"a":-0.14}]},"mark":{"type":"rule","color":"#e86a6a","strokeWidth":1.2},
   "encoding":{"x":{"field":"t","type":"quantitative","scale":{"domain":[1852.7,2025.76]},"axis":null},"x2":{"field":"t2"},
    "y":{"field":"a","type":"quantitative","scale":{"domain":[-1.34,1.46]},"axis":{"orient":"left","title":null,"labels":false,"domain":false,"values":[-0.8,-0.6,-0.4,-0.2,0.2,0.4,0.6,0.8],"tickSize":4}}}}
 ]},
{"width":425,"height":61.6,
 "resolve":{"axis":{"y":"independent"}},
 "layer":[
  {"encoding":{
    "x":{"field":"t","type":"quantitative","scale":{"domain":[1852.7,2025.76]},"axis":null},
    "y":{"field":"a","type":"quantitative","scale":{"domain":[-1.34,1.46]},"axis":{"orient":"left","title":null,"format":"d","values":[-1,0,1],"tickSize":6,"labelPadding":12}}},
   "layer":[
    {"data":{"name":"sd"},"mark":{"type":"tick","orient":"vertical","size":8,"thickness":2.6,"color":"#92cff1","opacity":0.9}},
    {"data":{"values":[{"t":1906,"t2":2012,"a":-0.04}]},"mark":{"type":"rule","color":"#e86a6a","strokeWidth":1.2},"encoding":{"x2":{"field":"t2"}}},
    {"data":{"name":"sd"},"mark":{"type":"point","filled":true,"size":5,"color":"#1a1f5c","opacity":1}},
    {"data":{"values":[{"t":1857.7,"a":1.16,"label":"Gauge at San Diego, California"}]},"mark":{"type":"text","align":"left","baseline":"middle","fontSize":11.5,"color":"#333"},"encoding":{"text":{"field":"label"}}}
   ]},
  {"data":{"values":[{"t":1906,"t2":2012,"a":-0.04}]},"mark":{"type":"rule","color":"#e86a6a","strokeWidth":1.2},
   "encoding":{"x":{"field":"t","type":"quantitative","scale":{"domain":[1852.7,2025.76]},"axis":null},"x2":{"field":"t2"},
    "y":{"field":"a","type":"quantitative","scale":{"domain":[-1.34,1.46]},"axis":{"orient":"left","title":null,"labels":false,"domain":false,"values":[-0.8,-0.6,-0.4,-0.2,0.2,0.4,0.6,0.8],"tickSize":4}}}}
 ]},
{"width":425,"height":61.6,
 "resolve":{"axis":{"y":"independent"}},
 "layer":[
  {"encoding":{
    "x":{"field":"t","type":"quantitative","scale":{"domain":[1852.7,2025.76]},"axis":null},
    "y":{"field":"a","type":"quantitative","scale":{"domain":[-1.34,1.46]},"axis":{"orient":"left","title":null,"format":"d","values":[-1,0,1],"tickSize":6,"labelPadding":12}}},
   "layer":[
    {"data":{"name":"an"},"mark":{"type":"tick","orient":"vertical","size":32,"thickness":2.6,"color":"#92cff1","opacity":0.6}},
    {"data":{"values":[{"t":1972,"t2":2012,"a":0}]},"mark":{"type":"rule","color":"#e86a6a","strokeWidth":1.2},"encoding":{"x2":{"field":"t2"}}},
    {"data":{"name":"an"},"mark":{"type":"point","filled":true,"size":5,"color":"#1a1f5c","opacity":1}},
    {"data":{"values":[{"t":1857.7,"a":1.16,"label":"Gauge at Anchorage, Alaska"}]},"mark":{"type":"text","align":"left","baseline":"middle","fontSize":11.5,"color":"#333"},"encoding":{"text":{"field":"label"}}}
   ]},
  {"data":{"values":[{"t":1972,"t2":2012,"a":0}]},"mark":{"type":"rule","color":"#e86a6a","strokeWidth":1.2},
   "encoding":{"x":{"field":"t","type":"quantitative","scale":{"domain":[1852.7,2025.76]},"axis":null},"x2":{"field":"t2"},
    "y":{"field":"a","type":"quantitative","scale":{"domain":[-1.34,1.46]},"axis":{"orient":"left","title":null,"labels":false,"domain":false,"values":[-0.8,-0.6,-0.4,-0.2,0.2,0.4,0.6,0.8],"tickSize":4}}}}
 ]},
{"width":425,"height":61.6,
 "resolve":{"axis":{"y":"independent"}},
 "layer":[
  {"encoding":{
    "x":{"field":"t","type":"quantitative","scale":{"domain":[1852.7,2025.76]},"axis":null},
    "y":{"field":"a","type":"quantitative","scale":{"domain":[-1.34,1.46]},"axis":{"orient":"left","title":null,"format":"d","values":[-1,0,1],"tickSize":6,"labelPadding":12}}},
   "layer":[
    {"data":{"name":"du"},"mark":{"type":"tick","orient":"vertical","size":10,"thickness":2.6,"color":"#92cff1","opacity":0.9}},
    {"data":{"values":[{"t":1938,"t2":2008,"a":0}]},"mark":{"type":"rule","color":"#e86a6a","strokeWidth":1.2},"encoding":{"x2":{"field":"t2"}}},
    {"data":{"name":"du"},"mark":{"type":"point","filled":true,"size":5,"color":"#1a1f5c","opacity":1}},
    {"data":{"values":[{"t":1857.7,"a":1.16,"label":"Gauge at Dublin, Ireland"}]},"mark":{"type":"text","align":"left","baseline":"middle","fontSize":11.5,"color":"#333"},"encoding":{"text":{"field":"label"}}}
   ]},
  {"data":{"values":[{"t":1938,"t2":2008,"a":0}]},"mark":{"type":"rule","color":"#e86a6a","strokeWidth":1.2},
   "encoding":{"x":{"field":"t","type":"quantitative","scale":{"domain":[1852.7,2025.76]},"axis":null},"x2":{"field":"t2"},
    "y":{"field":"a","type":"quantitative","scale":{"domain":[-1.34,1.46]},"axis":{"orient":"left","title":null,"labels":false,"domain":false,"values":[-0.8,-0.6,-0.4,-0.2,0.2,0.4,0.6,0.8],"tickSize":4}}}}
 ]},
{"width":425,"height":61.6,
 "resolve":{"axis":{"x":"independent","y":"independent"}},
 "layer":[
  {"encoding":{
    "x":{"field":"t","type":"quantitative","scale":{"domain":[1852.7,2025.76]},"axis":{"orient":"bottom","title":"Year","titleFontSize":11,"titlePadding":3,"format":"d","labelFontSize":9.5,"labelPadding":9,"values":[1860,1870,1880,1890,1900,1910,1920,1930,1940,1950,1960,1970,1980,1990,2000,2010,2020],"labelExpr":"datum.value % 20 === 0 ? datum.label : ''","tickSize":6}},
    "y":{"field":"a","type":"quantitative","scale":{"domain":[-1.34,1.46]},"axis":{"orient":"left","title":null,"format":"d","values":[-1,0,1],"tickSize":6,"labelPadding":12}}},
   "layer":[
    {"data":{"name":"ra"},"mark":{"type":"tick","orient":"vertical","size":22,"thickness":2.6,"color":"#92cff1","opacity":0.8}},
    {"data":{"values":[{"t":1916,"t2":1962,"a":0}]},"mark":{"type":"rule","color":"#e86a6a","strokeWidth":1.2},"encoding":{"x2":{"field":"t2"}}},
    {"data":{"name":"ra"},"mark":{"type":"point","filled":true,"size":5,"color":"#1a1f5c","opacity":1}},
    {"data":{"values":[{"t":1857.7,"a":1.16,"label":"Gauge at mouth of Rangoon River, Myanmar"}]},"mark":{"type":"text","align":"left","baseline":"middle","fontSize":11.5,"color":"#333"},"encoding":{"text":{"field":"label"}}}
   ]},
  {"data":{"values":[{"t":1916,"t2":1962,"a":0}]},"mark":{"type":"rule","color":"#e86a6a","strokeWidth":1.2},
   "encoding":{"x":{"field":"t","type":"quantitative","scale":{"domain":[1852.7,2025.76]},"axis":{"orient":"bottom","labels":false,"domain":false,"title":null,"values":[1862,1864,1866,1868,1872,1874,1876,1878,1882,1884,1886,1888,1892,1894,1896,1898,1902,1904,1906,1908,1912,1914,1916,1918,1922,1924,1926,1928,1932,1934,1936,1938,1942,1944,1946,1948,1952,1954,1956,1958,1962,1964,1966,1968,1972,1974,1976,1978,1982,1984,1986,1988,1992,1994,1996,1998,2002,2004,2006,2008,2012,2014,2016,2018],"tickSize":3.5}},"x2":{"field":"t2"},
    "y":{"field":"a","type":"quantitative","scale":{"domain":[-1.34,1.46]},"axis":{"orient":"left","title":null,"labels":false,"domain":false,"values":[-0.8,-0.6,-0.4,-0.2,0.2,0.4,0.6,0.8],"tickSize":4}}}}
 ]}
]
}
